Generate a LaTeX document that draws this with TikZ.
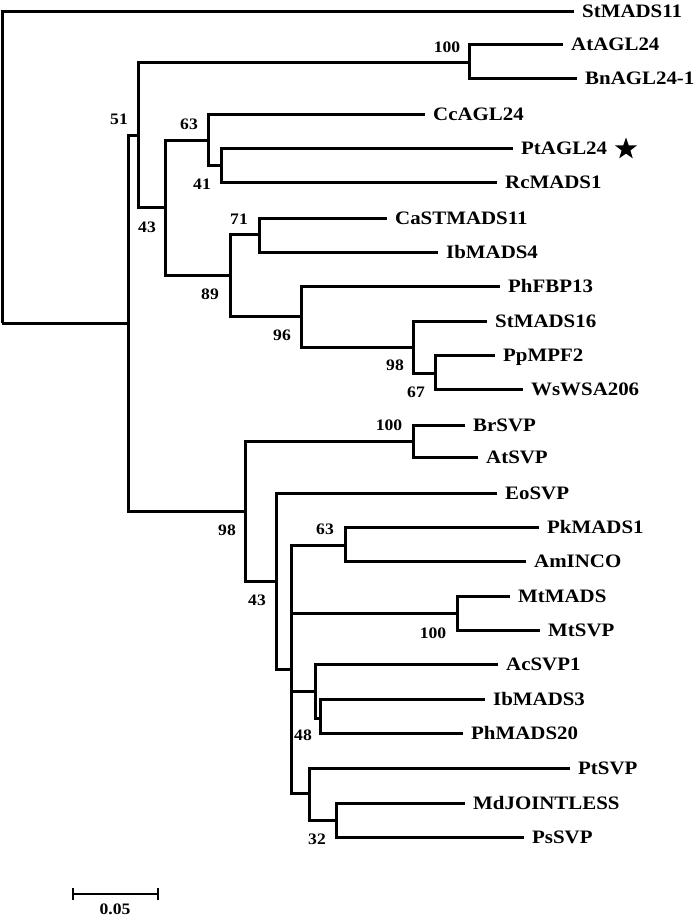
\documentclass[tikz,border=0pt]{standalone}
\usepackage{fontspec}
\setmainfont{Liberation Serif}[FakeStretch=1.1]
\usetikzlibrary{shapes.geometric}
\begin{document}
\begin{tikzpicture}[x=1pt,y=-1pt,
  br/.style={line width=3pt, line join=miter},
  leaf/.style={anchor=west, inner xsep=8pt, inner ysep=0pt, text height=13pt, text depth=0pt,
    font=\fontsize{19}{19}\selectfont\bfseries},
  bs/.style={anchor=center, inner sep=0pt, text height=11pt, text depth=0pt,
    font=\fontsize{16}{16}\selectfont\bfseries},
  scalebar/.style={line width=1.8pt}]
\useasboundingbox (0,0) rectangle (696,919);
% internal nodes (attachment points)
\coordinate (root) at (2,323);
\coordinate (n51) at (128,323);
\coordinate (n43) at (138,135);
\coordinate (n100a) at (469,62);
\coordinate (n165) at (165,207);
\coordinate (n63) at (208,140);
\coordinate (n41) at (221,165);
\coordinate (n89) at (230,275);
\coordinate (n71) at (259,234);
\coordinate (n96) at (301,316);
\coordinate (n98a) at (413,347);
\coordinate (n67) at (435,373);
\coordinate (n98b) at (245,511);
\coordinate (n100b) at (413,441);
\coordinate (n43b) at (276,581);
\coordinate (n48) at (291,669);
\coordinate (n63b) at (345,545);
\coordinate (n100c) at (457,613);
\coordinate (n315) at (315,691);
\coordinate (n320) at (320,718);
\coordinate (n32) at (309,793);
\coordinate (n336) at (336,820);
% leaves
\node[leaf] (StMADS11) at (574,11) {StMADS11};
\node[leaf] (AtAGL24) at (563,44) {AtAGL24};
\node[leaf] (BnAGL24) at (577,78) {BnAGL24-1};
\node[leaf] (CcAGL24) at (425,114) {CcAGL24};
\node[leaf] (PtAGL24) at (513,148) {PtAGL24};
\node[leaf] (RcMADS1) at (497,182) {RcMADS1};
\node[leaf] (CaSTMADS11) at (387,218) {CaSTMADS11};
\node[leaf] (IbMADS4) at (438,252) {IbMADS4};
\node[leaf] (PhFBP13) at (500,286) {PhFBP13};
\node[leaf] (StMADS16) at (487,321) {StMADS16};
\node[leaf] (PpMPF2) at (495,355) {PpMPF2};
\node[leaf] (WsWSA206) at (523,389) {WsWSA206};
\node[leaf] (BrSVP) at (465,425) {BrSVP};
\node[leaf] (AtSVP) at (478,457) {AtSVP};
\node[leaf] (EoSVP) at (497,493) {EoSVP};
\node[leaf] (PkMADS1) at (539,527) {PkMADS1};
\node[leaf] (AmINCO) at (526,561) {AmINCO};
\node[leaf] (MtMADS) at (510,596) {MtMADS};
\node[leaf] (MtSVP) at (540,630) {MtSVP};
\node[leaf] (AcSVP1) at (498,664) {AcSVP1};
\node[leaf] (IbMADS3) at (485,699) {IbMADS3};
\node[leaf] (PhMADS20) at (463,733) {PhMADS20};
\node[leaf] (PtSVP) at (570,768) {PtSVP};
\node[leaf] (MdJOINTLESS) at (465,803) {MdJOINTLESS};
\node[leaf] (PsSVP) at (524,837) {PsSVP};
\node[star, star points=5, star point ratio=2.5, minimum size=23pt, inner sep=0pt, fill=black] (star) at (626,149) {};
% branches
\draw[br] (root) |- (StMADS11);
\draw[br] (root) |- (n51);
\draw[br] (n51) |- (n43);
\draw[br] (n51) |- (n98b);
\draw[br] (n43) |- (n100a);
\draw[br] (n43) |- (n165);
\draw[br] (n100a) |- (AtAGL24);
\draw[br] (n100a) |- (BnAGL24);
\draw[br] (n165) |- (n63);
\draw[br] (n165) |- (n89);
\draw[br] (n63) |- (CcAGL24);
\draw[br] (n63) |- (n41);
\draw[br] (n41) |- (PtAGL24);
\draw[br] (n41) |- (RcMADS1);
\draw[br] (n89) |- (n71);
\draw[br] (n89) |- (n96);
\draw[br] (n71) |- (CaSTMADS11);
\draw[br] (n71) |- (IbMADS4);
\draw[br] (n96) |- (PhFBP13);
\draw[br] (n96) |- (n98a);
\draw[br] (n98a) |- (StMADS16);
\draw[br] (n98a) |- (n67);
\draw[br] (n67) |- (PpMPF2);
\draw[br] (n67) |- (WsWSA206);
\draw[br] (n98b) |- (n100b);
\draw[br] (n98b) |- (n43b);
\draw[br] (n100b) |- (BrSVP);
\draw[br] (n100b) |- (AtSVP);
\draw[br] (n43b) |- (EoSVP);
\draw[br] (n43b) |- (n48);
\draw[br] (n48) |- (n63b);
\draw[br] (n48) |- (n100c);
\draw[br] (n48) |- (n315);
\draw[br] (n48) |- (n32);
\draw[br] (n63b) |- (PkMADS1);
\draw[br] (n63b) |- (AmINCO);
\draw[br] (n100c) |- (MtMADS);
\draw[br] (n100c) |- (MtSVP);
\draw[br] (n315) |- (AcSVP1);
\draw[br] (n315) |- (n320);
\draw[br] (n320) |- (IbMADS3);
\draw[br] (n320) |- (PhMADS20);
\draw[br] (n32) |- (PtSVP);
\draw[br] (n32) |- (n336);
\draw[br] (n336) |- (MdJOINTLESS);
\draw[br] (n336) |- (PsSVP);
% bootstrap values
\node[bs] (b100a) at (447,47) {100};
\node[bs] (b51) at (119,119) {51};
\node[bs] (b63) at (189,124) {63};
\node[bs] (b41) at (202,184) {41};
\node[bs] (b43) at (147,227) {43};
\node[bs] (b71) at (239,219) {71};
\node[bs] (b89) at (210,294) {89};
\node[bs] (b96) at (282,335) {96};
\node[bs] (b98a) at (395,365) {98};
\node[bs] (b67) at (416,392) {67};
\node[bs] (b100b) at (389,425) {100};
\node[bs] (b98b) at (227,530) {98};
\node[bs] (b63b) at (325,529) {63};
\node[bs] (b43b) at (257,600) {43};
\node[bs] (b100c) at (433,633) {100};
\node[bs] (b48) at (303,735) {48};
\node[bs] (b32) at (317,839) {32};
% scale bar
\coordinate (sbl) at (73,894);
\coordinate (sbr) at (158,894);
\draw[scalebar] (sbl) -- (sbr);
\draw[scalebar] ([yshift=-6pt]sbl) -- ([yshift=6pt]sbl);
\draw[scalebar] ([yshift=-6pt]sbr) -- ([yshift=6pt]sbr);
\node[bs, font=\fontsize{16}{16}\selectfont\bfseries] (sblabel) at (115,909) {0.05};
\end{tikzpicture}
\end{document}
